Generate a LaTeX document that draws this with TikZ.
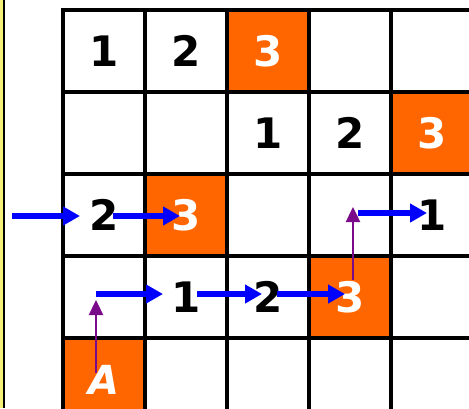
\documentclass[tikz,border=0pt]{standalone}
\usepackage{fontspec}
\setmainfont{DejaVu Sans}
\usetikzlibrary{arrows.meta,calc}
\definecolor{orng}{HTML}{FF6600}
\definecolor{blu}{HTML}{0000FF}
\definecolor{purp}{HTML}{7A0A8A}
\definecolor{ylw}{HTML}{F5F07A}
\begin{document}
\begin{tikzpicture}[x=1pt,y=-1pt,
  gridline/.style={line width=3.4pt,black},
  orangecell/.style={fill=orng},
  digit/.style={font=\fontsize{42}{42}\selectfont\bfseries,inner sep=0pt,text=black},
  wdigit/.style={digit,text=white},
  barrow/.style={draw=blu,line width=6pt,-{Triangle[length=17pt,width=18pt]}},
  parrow/.style={draw=purp,line width=2.4pt,-{Triangle[length=15pt,width=14pt]}}]
\useasboundingbox (0,0) rectangle (469,408);
\fill[white] (0,0) rectangle (469,408);
% left strip
\fill[ylw] (0,0) rectangle (3,408);
\fill[black] (3,0) rectangle (5,408);
% orange cells
\fill[orangecell] (227,10) rectangle (309,92);
\fill[orangecell] (391,92) rectangle (473,174);
\fill[orangecell] (145,174) rectangle (227,256);
\fill[orangecell] (309,256) rectangle (391,338);
\fill[orangecell] (63,338) rectangle (145,420);
% grid
\foreach \x in {63,145,227,309,391,473} \draw[gridline] (\x,8.3) -- (\x,420);
\foreach \y in {10,92,174,256,338,420} \draw[gridline] (61.3,\y) -- (475,\y);
% texts
\node[digit] (r0c0) at (104,51) {1};
\node[digit] (r0c1) at (186,51) {2};
\node[wdigit] (r0c2) at (268,51) {3};
\node[digit] (r1c2) at (268,133) {1};
\node[digit] (r1c3) at (350,133) {2};
\node[wdigit] (r1c4) at (432,133) {3};
\node[digit] (r2c0) at (104,215) {2};
\node[wdigit] (r2c1) at (186,215) {3};
\node[digit] (r2c4) at (432,215) {1};
\node[digit] (r3c1) at (186,297) {1};
\node[digit] (r3c2) at (268,297) {2};
\node[wdigit] (r3c3) at (350,297) {3};
\node[wdigit,font=\fontsize{40}{40}\selectfont\bfseries\itshape] (r4c0) at (104,380) {A};
% coordinates
\coordinate (entry) at (12,216);
\coordinate (turnA) at (96,294);
\coordinate (turnB) at (353,207);
% arrows
\draw[barrow] (entry) -- ($(r2c0.center)+(-24,1)$);
\draw[barrow] ($(r2c0.center)+(9,1)$) -- ($(r2c1.center)+(-6,1)$);
\draw[parrow] ($(r4c0.center)+(-8,-7)$) -- (turnA |- 0,300);
\draw[barrow] (turnA) -- ($(r3c1.center)+(-23,-3)$);
\draw[barrow] ($(r3c1.center)+(11,-3)$) -- ($(r3c2.center)+(-6,-3)$);
\draw[barrow] ($(r3c2.center)+(9,-3)$) -- ($(r3c3.center)+(-5,-3)$);
\draw[parrow] ($(r3c3.center)+(3,-17)$) -- (turnB);
\draw[barrow] ($(turnB)+(5,6)$) -- ($(r2c4.center)+(-5,-2)$);
\end{tikzpicture}
\end{document}
